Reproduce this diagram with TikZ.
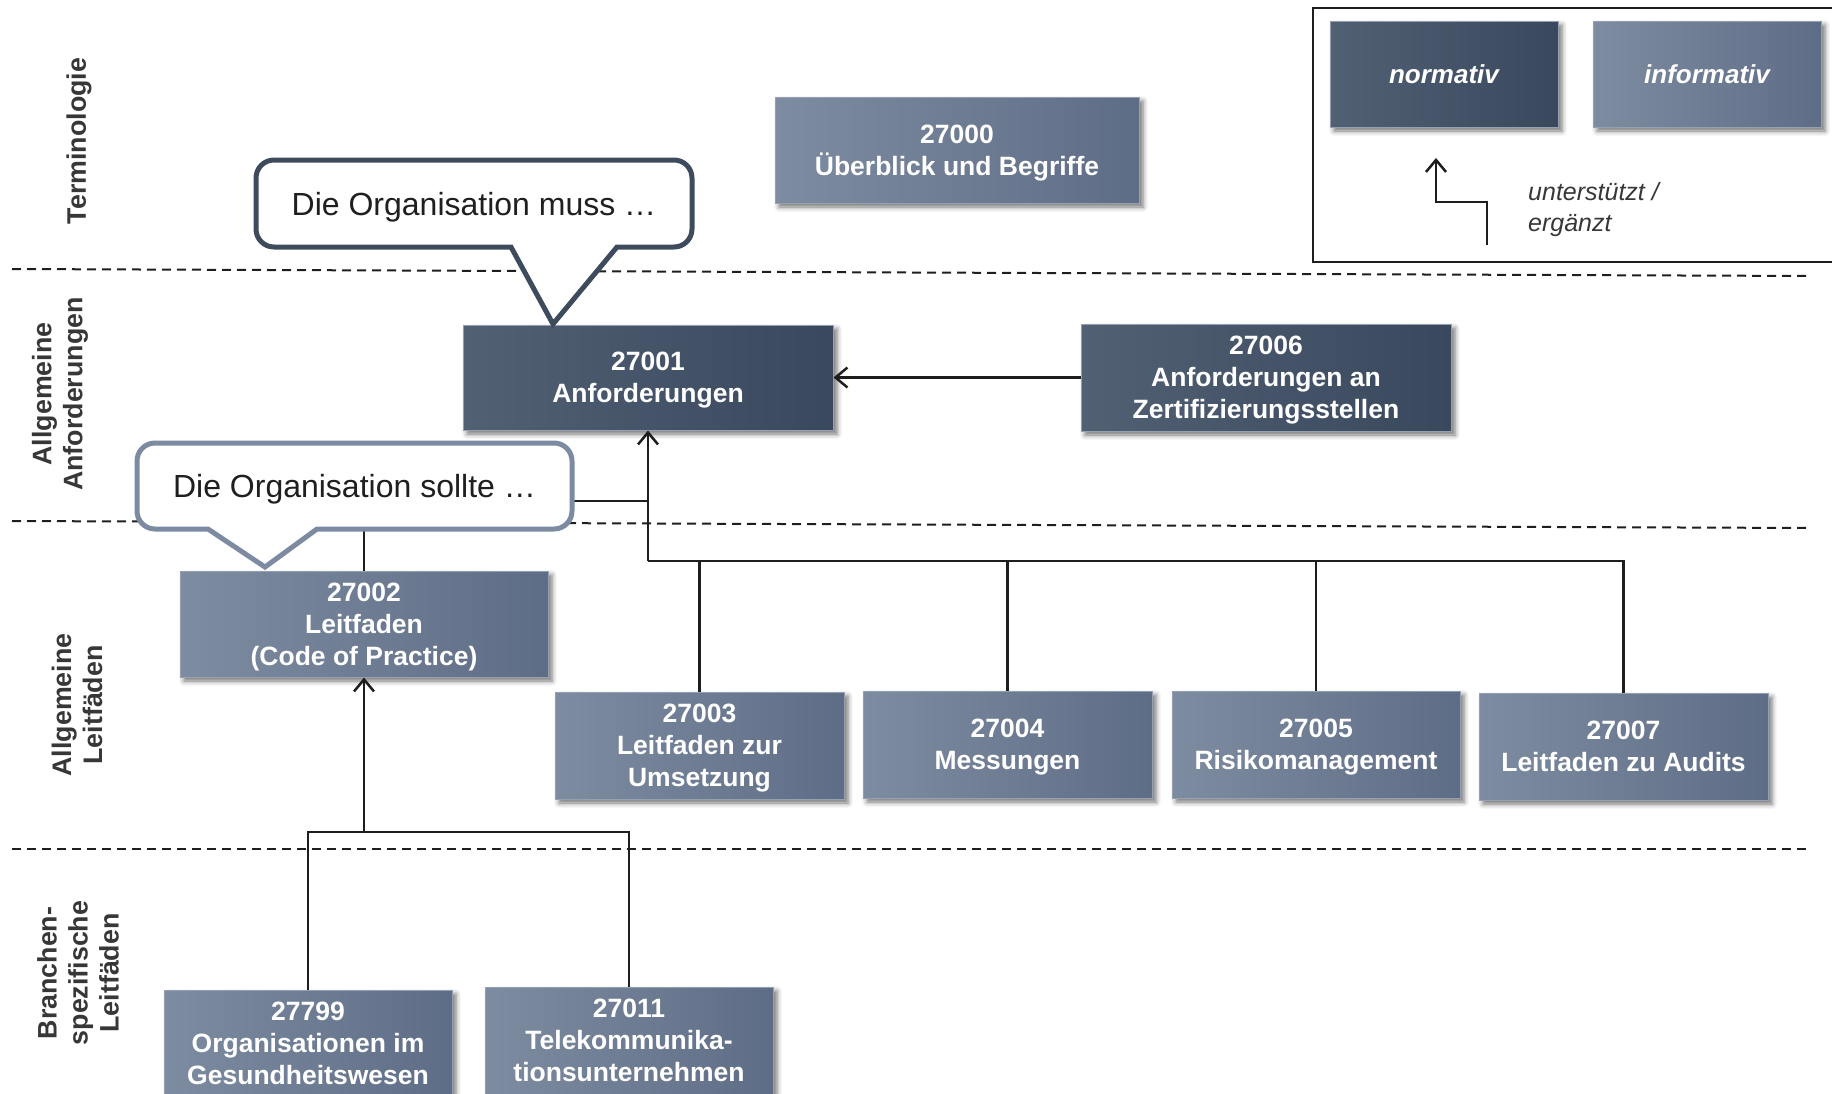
\documentclass[tikz,border=0pt]{standalone}
\usepackage{fontspec}
\setmainfont{Liberation Sans}
\usetikzlibrary{arrows.meta,shadows.blur}

\definecolor{normL}{RGB}{82,96,116}
\definecolor{normR}{RGB}{57,72,93}
\definecolor{infoL}{RGB}{126,140,161}
\definecolor{infoR}{RGB}{94,109,134}
\definecolor{edgegray}{RGB}{150,160,176}
\definecolor{calloutDark}{RGB}{62,75,93}
\definecolor{calloutLight}{RGB}{124,139,161}
\definecolor{labelgray}{RGB}{55,55,55}
\definecolor{linedark}{RGB}{30,30,30}

\begin{document}
\begin{tikzpicture}[x=1pt,y=-1pt,
  boxbase/.style={minimum height=106pt, inner sep=0pt, text=white,
    font=\fontsize{26.5}{32}\selectfont\bfseries, align=center, text depth=-5.5pt,
    draw=edgegray, line width=1pt,
    blur shadow={shadow xshift=4pt, shadow yshift=-4pt,
      shadow blur radius=5pt, shadow opacity=55}},
  norm/.style={boxbase, left color=normL, right color=normR},
  info/.style={boxbase, left color=infoL, right color=infoR},
  conn/.style={draw=linedark, line width=2.5pt},
  arr/.style={conn, -{Straight Barb[length=12pt,width=20pt,line width=2.5pt]}},
  sep/.style={draw=linedark, line width=2pt, dash pattern=on 9pt off 6pt},
  bubble/.style={draw, fill=white, line width=5pt, line join=miter},
  bubbletext/.style={font=\fontsize{32}{36}\selectfont, text=black!88, inner sep=0pt},
  rowlabel/.style={rotate=90, align=center, inner sep=0pt,
    font=\fontsize{26.8}{31}\selectfont\bfseries, text=labelgray}
]
\useasboundingbox (0,0) rectangle (1832,1093);

% layer separators
\draw[sep] (12,269) -- (1811,276);
\draw[sep] (12,521) -- (1811,528);
\draw[sep] (12,849) -- (1811,849);

% row labels
\node[rowlabel] (lTerm) at (79,141) {Terminologie};
\node[rowlabel] (lAnf) at (60,394) {Allgemeine\\Anforderungen};
\node[rowlabel] (lLeit) at (77,705) {Allgemeine\\Leitfäden};
\node[rowlabel] (lBranch) at (78,973) {Branchen-\\spezifische\\Leitfäden};

% standards
\node[info, minimum width=364pt] (n27000) at (957,150) {27000\\Überblick und Begriffe};
\node[norm, minimum width=370pt, minimum height=105pt] (n27001) at (648,377.5) {27001\\Anforderungen};
\node[norm, minimum width=370pt, minimum height=107pt] (n27006) at (1266,377.5) {27006\\Anforderungen an\\Zertifizierungsstellen};
\node[info, minimum width=368pt] (n27002) at (364,624) {27002\\Leitfaden\\(Code of Practice)};
\node[info, minimum width=289pt, minimum height=107pt] (n27003) at (699.5,745.5) {27003\\Leitfaden zur\\Umsetzung};
\node[info, minimum width=289pt, minimum height=107pt] (n27004) at (1007.5,744.5) {27004\\Messungen};
\node[info, minimum width=288pt, minimum height=107pt] (n27005) at (1316,744.5) {27005\\Risikomanagement};
\node[info, minimum width=289pt, minimum height=107pt] (n27007) at (1623.5,746.5) {27007\\Leitfaden zu Audits};
\node[info, minimum width=288pt, minimum height=107pt] (n27799) at (308,1043.5) {27799\\Organisationen im\\Gesundheitswesen};
\node[info, minimum width=288pt, minimum height=107pt] (n27011) at (629,1040.5) {27011\\Telekommunika-\\tionsunternehmen};

% junction points of the connector trees
\coordinate (hubA) at (648,561);
\coordinate (hubB) at (648,501);
\coordinate (hubC) at (364,832);

% connectors
\draw[arr] (n27006.west) -- (n27001.east);
\draw[conn] (n27003.north) |- (hubA);
\draw[conn] (n27004.north) |- (hubA);
\draw[conn] (n27005.north) |- (hubA);
\draw[conn] (n27007.north) |- (hubA);
\draw[conn] (n27002.north) |- (hubB);
\draw[arr] (hubA) -- (n27001.south);
\draw[conn] (n27799.north) |- (hubC);
\draw[conn] (n27011.north) |- (hubC);
\draw[arr] (hubC) -- (n27002.south);

% speech bubbles
\draw[bubble, draw=calloutDark] (553,324) -- (511,247) -- (400,247)
  [rounded corners=18pt] -- (256,247) -- (256,160) -- (692,160) -- (692,247) -- (650,247)
  [sharp corners] -- (617,247) -- cycle;
\node[bubbletext] (sayMust) at (474,207.5) {Die Organisation muss …};

\draw[bubble, draw=calloutLight] (265,567) -- (208,529) -- (180,529)
  [rounded corners=18pt] -- (137,529) -- (137,443) -- (572,443) -- (572,529) -- (340,529)
  [sharp corners] -- (317,529) -- cycle;
\node[bubbletext] (sayShould) at (354.5,489.5) {Die Organisation sollte …};

% legend
\draw[draw=linedark, line width=2.5pt] (1840,8) -- (1313,8) -- (1313,262) -- (1840,262);
\node[norm, minimum width=228pt, font=\fontsize{26}{32}\selectfont\bfseries\itshape] (legNorm) at (1444,74) {normativ};
\node[info, minimum width=228pt, font=\fontsize{26}{32}\selectfont\bfseries\itshape] (legInfo) at (1707,74) {informativ};
\coordinate (legS) at (1487,245);
\coordinate (legT) at (1436,158);
\draw[arr] (legS) -- (1487,202) -| (legT);
\node[anchor=west, align=left, inner sep=0pt, text=labelgray,
  font=\fontsize{25}{31}\selectfont\itshape] (legText) at (1528,209.5) {unterstützt /\\ergänzt};
\end{tikzpicture}
\end{document}
